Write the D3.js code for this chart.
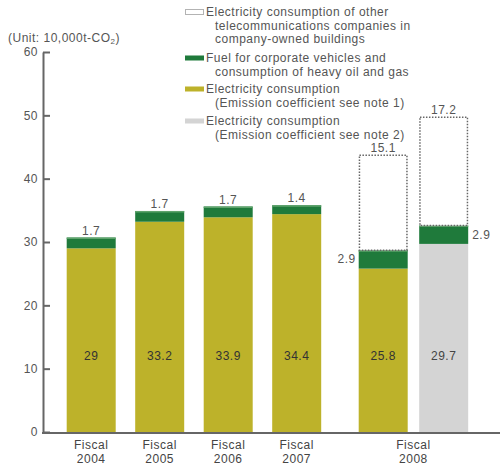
<!DOCTYPE html>
<html>
<head>
<meta charset="utf-8">
<script src="https://cdn.jsdelivr.net/npm/d3@7/dist/d3.min.js"></script>
<style>
  html, body { margin: 0; padding: 0; background: #fff; }
  svg { display: block; font-family: "Liberation Sans", Arial, sans-serif; }
</style>
</head>
<body>
<svg id="chart" width="500" height="468"></svg>
<script>
// ---- data -------------------------------------------------------------
const barKeys      = ["2004", "2005", "2006", "2007", "2008a", "2008b"];
const fiscalYears  = ["2004", "2005", "2006", "2007", "2008"];
const barYear      = ["2004", "2005", "2006", "2007", "2008", "2008"];
const electricity  = [29, 33.2, 33.9, 34.4, 25.8, 29.7];   // own electricity use
const fuel         = [1.7, 1.7, 1.7, 1.4, 2.9, 2.9];       // vehicles, heavy oil, gas
const otherCarrier = [0, 0, 0, 0, 15.1, 17.2];             // other carriers in own buildings
const coefficient  = ["note1", "note1", "note1", "note1", "note1", "note2"];
const yTicks       = [0, 10, 20, 30, 40, 50, 60];
const legendItems = [
  { key: "other", lines: ["Electricity consumption of other", "telecommunications companies in", "company-owned buildings"] },
  { key: "fuel",  lines: ["Fuel for corporate vehicles and", "consumption of heavy oil and gas"] },
  { key: "note1", lines: ["Electricity consumption", "(Emission coefficient see note 1)"] },
  { key: "note2", lines: ["Electricity consumption", "(Emission coefficient see note 2)"] }
];

// ---- style ------------------------------------------------------------
const colors = { note1: "#bdb22a", note2: "#d4d4d4", fuel: "#1f7a3b", fuelEdge: "#5fa36c", other: "#ffffff", dots: "#666" };
const textGray = "#555";
const spacing = "0.5px";

const svg = d3.select("#chart");
const x0 = 43, yBase = 432;

const y = d3.scaleLinear().domain([0, 60]).range([yBase, 52]);

// One band per bar (step 68.5, width 49); the fiscal 2008 pair sits further out and closer together.
const x = d3.scaleBand().domain(barKeys)
  .range([66.7, 66.7 + 68.5 * 5 + 49])
  .paddingInner(19.5 / 68.5).paddingOuter(0);
const shift = { "2008a": 18, "2008b": 10 };
const bx = k => x(k) + (shift[k] || 0);
const bw = x.bandwidth();

const rows = barKeys.map((k, i) => ({
  key: k, year: barYear[i], coef: coefficient[i],
  base: electricity[i], fuel: fuel[i], other: otherCarrier[i]
}));
const stack = d3.stack().keys(["base", "fuel", "other"]);
const layers = stack(rows);

// ---- axes -------------------------------------------------------------
const yAxis = d3.axisLeft(y).tickValues(yTicks).tickSizeInner(-7).tickSizeOuter(0).tickPadding(5);
const gy = svg.append("g").attr("transform", `translate(${x0},0)`).call(yAxis);
gy.select(".domain").attr("stroke", "#666").attr("stroke-width", 2);
gy.selectAll(".tick line").attr("stroke", "#666").attr("stroke-width", 2);
gy.selectAll(".tick text").attr("fill", textGray).attr("font-size", 12).attr("letter-spacing", spacing)
  .attr("font-family", "\"Liberation Sans\", Arial, sans-serif");

// ---- bars -------------------------------------------------------------
const gBars = svg.append("g");
// electricity base
gBars.selectAll("rect.base").data(layers[0]).join("rect")
  .attr("class", "base")
  .attr("x", d => bx(d.data.key)).attr("width", bw)
  .attr("y", d => y(d[1])).attr("height", d => y(d[0]) - y(d[1]))
  .attr("fill", d => colors[d.data.coef]);
// fuel band
gBars.selectAll("rect.fuel").data(layers[1]).join("rect")
  .attr("class", "fuel")
  .attr("x", d => bx(d.data.key)).attr("width", bw)
  .attr("y", d => y(d[1])).attr("height", d => y(d[0]) - y(d[1]))
  .attr("fill", colors.fuel);
gBars.selectAll("line.fuelEdge").data(layers[1]).join("line")
  .attr("class", "fuelEdge")
  .attr("x1", d => bx(d.data.key)).attr("x2", d => bx(d.data.key) + bw)
  .attr("y1", d => y(d[1]) + 0.75).attr("y2", d => y(d[1]) + 0.75)
  .attr("stroke", colors.fuelEdge).attr("stroke-width", 1.5);
// other carriers (dotted outline)
gBars.selectAll("rect.other").data(layers[2].filter(d => d.data.other > 0)).join("rect")
  .attr("class", "other")
  .attr("x", d => bx(d.data.key) + 0.75).attr("width", bw - 1.5)
  .attr("y", d => y(d[1]) + 0.75).attr("height", d => y(d[0]) - y(d[1]) - 0.75)
  .attr("fill", colors.other).attr("stroke", colors.dots)
  .attr("stroke-width", 1.5).attr("stroke-dasharray", "1.5,1.5");

// x axis line
svg.append("line").attr("x1", x0 - 1).attr("x2", 500).attr("y1", yBase + 1).attr("y2", yBase + 1)
  .attr("stroke", "#666").attr("stroke-width", 2);

// ---- value labels -----------------------------------------------------
const lbl = (sel) => sel.attr("font-size", 12).attr("letter-spacing", spacing);
const insideLevel = 12;
lbl(svg.append("g").selectAll("text").data(rows).join("text"))
  .attr("x", d => bx(d.key) + bw / 2).attr("y", y(insideLevel) + 4)
  .attr("text-anchor", "middle").attr("fill", d => d.coef === "note2" ? "#444" : "#333")
  .text(d => d.base);

// fuel labels on top for single bars, beside the band for the 2008 pair
lbl(svg.append("g").selectAll("text").data(rows).join("text"))
  .attr("x", d => d.key === "2008a" ? bx(d.key) - 3 : d.key === "2008b" ? bx(d.key) + bw + 4 : bx(d.key) + bw / 2)
  .attr("y", d => d.other > 0 ? y(d.base + d.fuel / 2) + 4 : y(d.base + d.fuel) - 3)
  .attr("text-anchor", d => d.key === "2008a" ? "end" : d.key === "2008b" ? "start" : "middle")
  .attr("fill", textGray)
  .text(d => d.fuel);

lbl(svg.append("g").selectAll("text").data(rows.filter(d => d.other > 0)).join("text"))
  .attr("x", d => bx(d.key) + bw / 2).attr("y", d => y(d.base + d.fuel + d.other) - 3)
  .attr("text-anchor", "middle").attr("fill", textGray)
  .text(d => d.other);

// ---- category labels --------------------------------------------------
const yearCenter = yr => {
  const ks = barKeys.filter((k, i) => barYear[i] === yr);
  return (bx(ks[0]) + bx(ks[ks.length - 1]) + bw) / 2;
};
const gx = svg.append("g").attr("fill", "#444").attr("font-size", 12).attr("letter-spacing", spacing).attr("text-anchor", "middle");
fiscalYears.forEach(yr => {
  const t = gx.append("text").attr("x", yearCenter(yr)).attr("y", 449);
  t.append("tspan").attr("x", yearCenter(yr)).text("Fiscal");
  t.append("tspan").attr("x", yearCenter(yr)).attr("dy", 14).text(yr);
});

// ---- unit label -------------------------------------------------------
const unit = svg.append("text").attr("x", 8).attr("y", 42).attr("font-size", 12)
  .attr("letter-spacing", spacing).attr("fill", textGray);
unit.append("tspan").text("(Unit: 10,000t-CO");
unit.append("tspan").attr("font-size", 8).attr("dy", 2).text("2");
unit.append("tspan").attr("dy", -2).text(")");

// ---- legend -----------------------------------------------------------
const legendTop = [12, 58, 89, 121];
const lineStep = 13.5;
const lg = svg.append("g");
legendItems.forEach((item, i) => {
  const cy = legendTop[i];
  if (item.key === "other") {
    lg.append("rect").attr("x", 185.5).attr("y", cy - 2.5).attr("width", 18).attr("height", 5)
      .attr("fill", "#fff").attr("stroke", colors.dots).attr("stroke-width", 1).attr("stroke-dasharray", "1,1");
  } else {
    lg.append("rect").attr("x", 185).attr("y", cy - 2.5).attr("width", 19).attr("height", 5)
      .attr("fill", colors[item.key]);
  }
  item.lines.forEach((ln, j) => {
    lg.append("text").attr("x", j === 0 ? 206 : 215).attr("y", cy + 4 + j * lineStep)
      .attr("font-size", 12).attr("letter-spacing", spacing).attr("fill", textGray).text(ln);
  });
});
</script>
</body>
</html>
